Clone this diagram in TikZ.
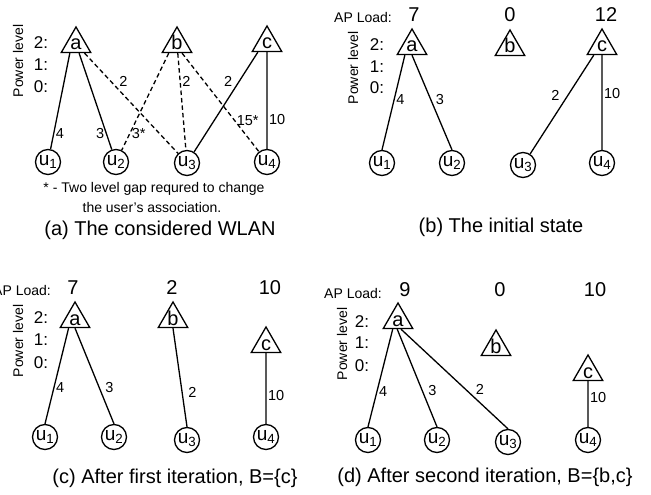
\documentclass[tikz,border=0pt]{standalone}
\usepackage{fontspec}
\setmainfont{Liberation Sans}
\usetikzlibrary{shapes.geometric}

\begin{document}
\begin{tikzpicture}[x=1pt, y=-1pt,
    ap/.style={draw, regular polygon, regular polygon sides=3, minimum size=34pt, inner sep=0pt, text height=12pt, text depth=0pt, line width=1.3pt, font=\fontsize{20}{20}\selectfont},
    user/.style={draw, circle, minimum size=25pt, inner sep=0pt, line width=1.3pt, font=\fontsize{19}{19}\selectfont},
    link/.style={line width=1.3pt},
    cand/.style={line width=1.3pt, dash pattern=on 4.5pt off 3pt},
    lbl/.style={inner sep=1.5pt, font=\fontsize{14.5}{14.5}\selectfont},
    small/.style={font=\fontsize{14}{14}\selectfont},
    lvl/.style={font=\fontsize{17}{17}\selectfont},
    load/.style={font=\fontsize{20}{20}\selectfont},
    caption/.style={font=\fontsize{20}{20}\selectfont}
]
\useasboundingbox (0,0) rectangle (651,495);

% (a) the considered WLAN
\node[small, rotate=90] (A-pl) at (18,61) {Power level};
\node[lvl] (A-l2) at (41,43) {2:};
\node[lvl] (A-l1) at (41,65) {1:};
\node[lvl] (A-l0) at (41,87) {0:};

\node[ap] (A-a) at (76,44) {a};
\node[ap] (A-b) at (177,44) {b};
\node[ap] (A-c) at (267,43) {c};

\node[user] (A-u1) at (48,162) {u\textsubscript{1}};
\node[user] (A-u2) at (116,162) {u\textsubscript{2}};
\node[user] (A-u3) at (187,163) {u\textsubscript{3}};
\node[user] (A-u4) at (267,162) {u\textsubscript{4}};

\draw[link] (A-a.-124) -- node[lbl, pos=.84, right] {4} (A-u1);
\draw[link] (A-a) -- node[lbl, pos=.83, left] {3} (A-u2);
\draw[cand] (A-a) -- node[lbl, pos=.35, above right] {2} (A-u3);
\draw[cand] (A-b.-132) -- node[lbl, pos=.83, right] {3*} (A-u2);
\draw[cand] (A-b) -- node[lbl, pos=.29, right] {2} (A-u3);
\draw[cand] (A-b.-61) -- node[lbl, pos=.685, right] {15*} (A-u4);
\draw[link] (A-c.-135) -- node[lbl, pos=.29, left=5pt] {2} (A-u3);
\draw[link] (A-c) -- node[lbl, pos=.7, right] {10} (A-u4);

\node[small] (A-note1) at (154,189) {* - Two level gap requred to change};
\node[small] (A-note2) at (152,207) {the user's association.};
\node[caption] (A-cap) at (160,230) {(a) The considered WLAN};

% (b) the initial state
\node[small] (B-load) at (363,17) {AP Load:};
\node[load] (B-la) at (414,15) {7};
\node[load] (B-lb) at (510,15) {0};
\node[load] (B-lc) at (606,15) {12};

\node[small, rotate=90] (B-pl) at (353,68) {Power level};
\node[lvl] (B-l2) at (377,45) {2:};
\node[lvl] (B-l1) at (377,67) {1:};
\node[lvl] (B-l0) at (377,88) {0:};

\node[ap] (B-a) at (412,46) {a};
\node[ap] (B-b) at (510,47) {b};
\node[ap] (B-c) at (602,46) {c};

\node[user] (B-u1) at (382,163) {u\textsubscript{1}};
\node[user] (B-u2) at (452,163) {u\textsubscript{2}};
\node[user] (B-u3) at (523,165) {u\textsubscript{3}};
\node[user] (B-u4) at (602,163) {u\textsubscript{4}};

\draw[link] (B-a.-128) -- node[lbl, pos=.47, right] {4} (B-u1.north);
\draw[link] (B-a.-90) -- node[lbl, pos=.47, right=3pt] {3} (B-u2.north);
\draw[link] (B-c.-132) -- node[lbl, pos=.41, left=6pt] {2} (B-u3);
\draw[link] (B-c) -- node[lbl, pos=.4, right] {10} (B-u4);

\node[caption] (B-cap) at (501,227) {(b) The initial state};

% (c) after first iteration
\node[small] (C-load) at (22,290) {AP Load:};
\node[load] (C-la) at (73,288) {7};
\node[load] (C-lb) at (172,288) {2};
\node[load] (C-lc) at (270,288) {10};

\node[small, rotate=90] (C-pl) at (18,341) {Power level};
\node[lvl] (C-l2) at (41,318) {2:};
\node[lvl] (C-l1) at (41,340) {1:};
\node[lvl] (C-l0) at (41,363) {0:};

\node[ap] (C-a) at (75,319) {a};
\node[ap] (C-b) at (173,319) {b};
\node[ap] (C-c) at (266,344) {c};

\node[user] (C-u1) at (45,437) {u\textsubscript{1}};
\node[user] (C-u2) at (114,437) {u\textsubscript{2}};
\node[user] (C-u3) at (187,440) {u\textsubscript{3}};
\node[user] (C-u4) at (266,437) {u\textsubscript{4}};

\draw[link] (C-a.-125) -- node[lbl, pos=.62, right] {4} (C-u1.north);
\draw[link] (C-a.-90) -- node[lbl, pos=.62, right=4pt] {3} (C-u2.north);
\draw[link] (C-b.-90) -- node[lbl, pos=.65, right=4pt] {2} (C-u3.north);
\draw[link] (C-c) -- node[lbl, pos=.6, right] {10} (C-u4);

\node[caption] (C-cap) at (175,478) {(c) After first iteration, B=\{c\}};

% (d) after second iteration
\node[small] (D-load) at (353,293) {AP Load:};
\node[load] (D-la) at (405,290) {9};
\node[load] (D-lb) at (500,290) {0};
\node[load] (D-lc) at (595,290) {10};

\node[small, rotate=90] (D-pl) at (342,344) {Power level};
\node[lvl] (D-l2) at (362,322) {2:};
\node[lvl] (D-l1) at (362,343) {1:};
\node[lvl] (D-l0) at (362,366) {0:};

\node[ap] (D-a) at (398,320) {a};
\node[ap] (D-b) at (496,347) {b};
\node[ap] (D-c) at (588,372) {c};

\node[user] (D-u1) at (368,440) {u\textsubscript{1}};
\node[user] (D-u2) at (437,440) {u\textsubscript{2}};
\node[user] (D-u3) at (508,442) {u\textsubscript{3}};
\node[user] (D-u4) at (588,440) {u\textsubscript{4}};

\draw[link] (D-a.-120) -- node[lbl, pos=.64, right] {4} (D-u1.north);
\draw[link] (D-a.-95) -- node[lbl, pos=.63, right=4pt] {3} (D-u2.north);
\draw[link] (D-a.-72) -- node[lbl, pos=.68, above right] {2} (D-u3.north);
\draw[link] (D-c) -- node[lbl, pos=.36, right] {10} (D-u4);

\node[caption] (D-cap) at (485,477) {(d) After second iteration, B=\{b,c\}};

\end{tikzpicture}
\end{document}
